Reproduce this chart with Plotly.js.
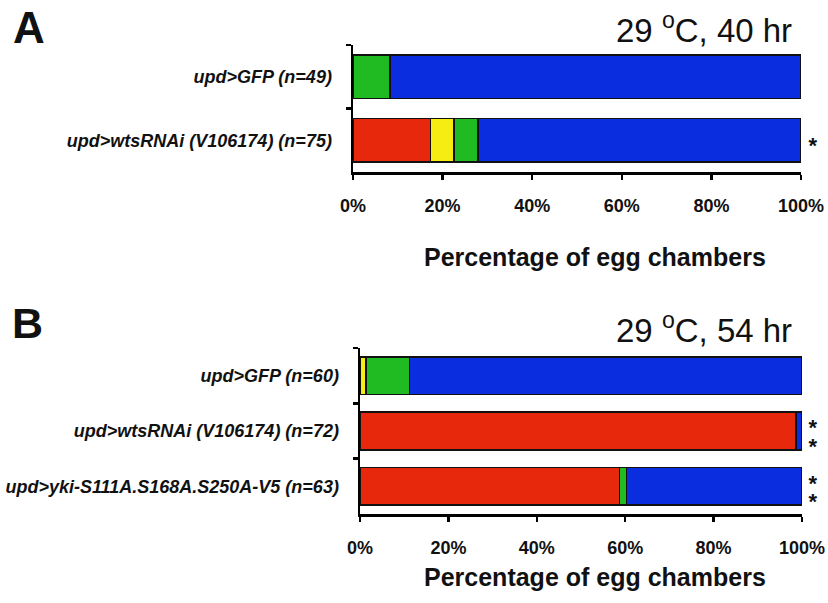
<!DOCTYPE html>
<html>
<head>
<meta charset="utf-8">
<script src="https://cdn.plot.ly/plotly-3.0.1.min.js"></script>
<style>html,body{margin:0;padding:0;background:#fff;}#chart{width:828px;height:603px;}</style>
</head>
<body>
<div id="chart"></div>
<script>
// ---- Data ----
const categoriesA = ['upd>GFP (n=49)', 'upd>wtsRNAi (V106174) (n=75)'];
const redA    = [null, 17.3];
const yellowA = [null, 5.3];
const greenA  = [8.2, 5.3];
const blueA   = [91.8, 72.1];

const categoriesB = ['upd>GFP (n=60)', 'upd>wtsRNAi (V106174) (n=72)', 'upd>yki-S111A.S168A.S250A-V5 (n=63)'];
const redB    = [null, 98.6, 58.7];
const yellowB = [1.3, null, null];
const greenB  = [9.9, null, 1.6];
const blueB   = [88.8, 1.4, 39.7];

const tickValues = [0, 20, 40, 60, 80, 100];
const tickLabels = ['0%', '20%', '40%', '60%', '80%', '100%'];

const titleA = '29 <sup>o</sup>C, 40 hr';
const titleB = '29 <sup>o</sup>C, 54 hr';
const xTitle = 'Percentage of egg chambers';
const starsA = [0, 1];      // number of significance stars per row
const starsB = [0, 2, 2];

// ---- Styles ----
const W = 828, H = 603;
const FONT = 'Arial, "Liberation Sans", sans-serif';
const colors = {red: '#e8280c', yellow: '#f6ee12', green: '#20bb22', blue: '#0b2de0'};
const px = x => x / W;
const py = y => 1 - y / H;

function seg(cats, vals, color, xa, ya) {
  return {
    type: 'bar', orientation: 'h', y: cats, x: vals,
    xaxis: xa, yaxis: ya,
    marker: {color: color, line: {color: '#111', width: 1.6}},
    hoverinfo: 'x+y', showlegend: false
  };
}

const data = [
  seg(categoriesA, redA, colors.red, 'x', 'y'),
  seg(categoriesA, yellowA, colors.yellow, 'x', 'y'),
  seg(categoriesA, greenA, colors.green, 'x', 'y'),
  seg(categoriesA, blueA, colors.blue, 'x', 'y'),
  seg(categoriesB, redB, colors.red, 'x2', 'y2'),
  seg(categoriesB, yellowB, colors.yellow, 'x2', 'y2'),
  seg(categoriesB, greenB, colors.green, 'x2', 'y2'),
  seg(categoriesB, blueB, colors.blue, 'x2', 'y2')
];

function xAxis(domain, anchor) {
  return {
    domain: domain, anchor: anchor, range: [0, 100],
    tickvals: tickValues, ticktext: tickLabels,
    showline: true, linecolor: '#000', linewidth: 2.5,
    ticks: 'outside', ticklen: 5, tickwidth: 2.5, tickcolor: '#000',
    ticklabelstandoff: 11,
    tickfont: {family: FONT, size: 18, color: '#111', weight: 'bold'},
    showgrid: false, zeroline: false, fixedrange: true
  };
}
function yAxis(domain, anchor) {
  return {
    domain: domain, anchor: anchor, type: 'category', autorange: 'reversed',
    showline: true, linecolor: '#000', linewidth: 2.5,
    ticks: 'outside', tickson: 'boundaries', ticklen: 5, tickwidth: 2.5, tickcolor: '#000',
    ticklabelstandoff: 15,
    tickfont: {family: FONT, size: 18, color: '#111', weight: 'bold', style: 'italic'},
    showgrid: false, zeroline: false, fixedrange: true
  };
}

const annotations = [];
function ann(text, x, y, size, opts) {
  annotations.push(Object.assign({
    text: text, xref: 'paper', yref: 'paper', x: px(x), y: py(y),
    xanchor: 'center', yanchor: 'middle', showarrow: false,
    font: {family: FONT, size: size, color: '#111'}
  }, opts || {}));
}
const boldFont = s => ({font: {family: FONT, size: s, color: '#111', weight: 'bold'}});
ann('A', 29, 27, 44, boldFont(44));
ann('B', 28, 323, 43, boldFont(43));
ann(titleA, 794, 28, 33, {xanchor: 'right'});
ann(titleB, 794, 328, 33, {xanchor: 'right'});
ann(xTitle, 595, 257, 25, boldFont(25));
ann(xTitle, 595, 577, 25, boldFont(25));

// significance stars next to bars
function star(y) {
  ann('*', 813, y, 22, Object.assign({height: 16, width: 14}, boldFont(22)));
}
function addStars(counts, bands) {
  counts.forEach((n, i) => {
    const c = (bands[i][0] + bands[i][1]) / 2 + 3;
    if (n === 1) star(c + 2);
    if (n === 2) { star(c - 6.5); star(c + 12); }
  });
}
addStars(starsA, [[45, 108], [108, 172]]);
addStars(starsB, [[348, 403], [403, 458], [458, 514]]);

const layout = {
  width: W, height: H,
  margin: {l: 0, r: 0, t: 0, b: 0},
  paper_bgcolor: '#fff', plot_bgcolor: '#fff',
  barmode: 'stack', bargap: 0.32,
  showlegend: false,
  xaxis: xAxis([px(353), px(801)], 'y'),
  yaxis: yAxis([py(172), py(45)], 'x'),
  xaxis2: xAxis([px(360), px(802)], 'y2'),
  yaxis2: yAxis([py(514), py(348)], 'x2'),
  annotations: annotations
};

Plotly.newPlot('chart', data, layout, {displayModeBar: false, staticPlot: true});
</script>
</body>
</html>
